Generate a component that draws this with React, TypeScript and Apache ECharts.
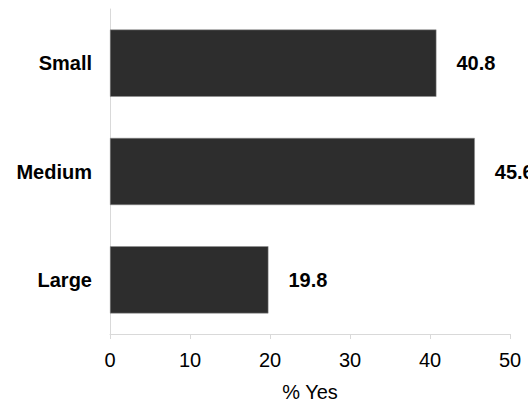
import React, { useEffect, useRef } from "react";
import * as echarts from "echarts";

const categories = ["Small", "Medium", "Large"];
const values = [40.8, 45.6, 19.8];
const xTicks = [0, 10, 20, 30, 40, 50];
const axisTitle = "% Yes";

export default function App() {
  const ref = useRef<HTMLDivElement>(null);
  useEffect(() => {
    if (!ref.current) return;
    const chart = echarts.init(ref.current, null, { renderer: "svg" });
    const font = "Arial, 'Liberation Sans', sans-serif";
    chart.setOption({
      animation: false,
      grid: { left: 110, right: 18, top: 9, bottom: 71, containLabel: false },
      xAxis: {
        type: "value",
        min: xTicks[0],
        max: xTicks[xTicks.length - 1],
        interval: 10,
        name: axisTitle,
        nameLocation: "middle",
        nameGap: 48,
        nameTextStyle: { fontFamily: font, fontSize: 20, color: "#000" },
        axisLine: { show: true, lineStyle: { color: "#d9d9d9", width: 1 } },
        axisTick: { show: true, length: 5, lineStyle: { color: "#d9d9d9" } },
        axisLabel: { fontFamily: font, fontSize: 20, color: "#000", margin: 16 },
        splitLine: { show: false },
      },
      yAxis: {
        type: "category",
        data: categories,
        inverse: true,
        axisLine: { show: true, lineStyle: { color: "#d9d9d9", width: 1 } },
        axisTick: { show: false },
        axisLabel: {
          fontFamily: font,
          fontSize: 20,
          fontWeight: "bold",
          color: "#000",
          margin: 18,
        },
      },
      series: [
        {
          type: "bar",
          data: values,
          barWidth: "62%",
          itemStyle: { color: "#2d2d2d", borderColor: "#8c8c8c", borderWidth: 0.5 },
          label: {
            show: true,
            position: "right",
            distance: 20,
            fontFamily: font,
            fontSize: 20,
            fontWeight: "bold",
            color: "#000",
            formatter: (p: any) => p.value.toFixed(1),
          },
        },
      ],
    });
    return () => chart.dispose();
  }, []);
  return <div ref={ref} style={{ width: 528, height: 407, position: "absolute", left: 0, top: 0 }} />;
}
